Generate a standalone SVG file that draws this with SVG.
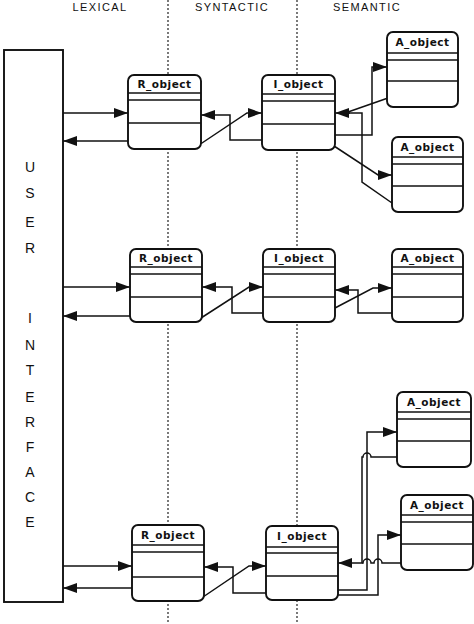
<svg xmlns="http://www.w3.org/2000/svg" width="474" height="624" viewBox="0 0 474 624">
<style>
.hdr{font-family:"Liberation Sans",Arial,sans-serif;font-size:11px;letter-spacing:1.4px;fill:#111;text-anchor:middle}
.ui{font-family:"Liberation Sans",Arial,sans-serif;font-size:14px;fill:#111;text-anchor:middle}
.ttl{font-family:"DejaVu Sans",sans-serif;font-size:10.5px;font-weight:bold;letter-spacing:0.5px;fill:#111;text-anchor:middle}
.box{fill:#fff;stroke:#111;stroke-width:1.9}
.sep{stroke:#111;stroke-width:1.5}
.div{stroke:#222;stroke-width:1.2;stroke-dasharray:2,2;fill:none}
.c{fill:none;stroke:#111;stroke-width:1.5}
.a{marker-end:url(#ah)}
</style>
<defs>
<marker id="ah" viewBox="0 0 14 10" refX="14" refY="5" markerWidth="14" markerHeight="10" orient="auto" markerUnits="userSpaceOnUse">
<path d="M0,0 L14,5 L0,10 z" fill="#111"/>
</marker>
</defs>
<rect width="474" height="624" fill="#fff"/>
<g id="headers">
<text class="hdr" x="100" y="11">LEXICAL</text>
<text class="hdr" x="232" y="11">SYNTACTIC</text>
<text class="hdr" x="367" y="11">SEMANTIC</text>
</g>
<g id="dividers">
<line class="div" x1="168" y1="0" x2="168" y2="624"/>
<line class="div" x1="297" y1="0" x2="297" y2="624"/>
</g>
<g id="user-interface">
<rect class="box" x="4" y="50" width="59" height="552" rx="0"/>
<text class="ui" x="30" y="172">U</text>
<text class="ui" x="30" y="198">S</text>
<text class="ui" x="30" y="227">E</text>
<text class="ui" x="30" y="253">R</text>
<text class="ui" x="30" y="323">I</text>
<text class="ui" x="30" y="350">N</text>
<text class="ui" x="30" y="375">T</text>
<text class="ui" x="30" y="402">E</text>
<text class="ui" x="30" y="427">R</text>
<text class="ui" x="30" y="452">F</text>
<text class="ui" x="30" y="477">A</text>
<text class="ui" x="30" y="502">C</text>
<text class="ui" x="30" y="527">E</text>
</g>
<g id="connectors">
<path class="c a" d="M63,113 H128"/>
<path class="c a" d="M128,141 H63"/>
<path class="c a" d="M262,140 H230 V115 H201"/>
<path class="c a" d="M199,145 L247,113 H262"/>
<path class="c a" d="M335,135 H372 V67 H387"/>
<path class="c" d="M388,98 L348,112"/>
<path class="c" d="M392,203 L362,182 V113 H347"/>
<path class="c a" d="M350,113 H335"/>
<path class="c a" d="M334,146 L378,175 H392"/>

<path class="c a" d="M63,287 H130"/>
<path class="c a" d="M130,316 H63"/>
<path class="c a" d="M263,313 H232 V287 H202"/>
<path class="c a" d="M201,318 L249,287 H263"/>
<path class="c a" d="M392,313 H358 V290 H335"/>
<path class="c a" d="M335,308 L373,288 H392"/>

<path class="c a" d="M63,566 H132"/>
<path class="c a" d="M132,588 H63"/>
<path class="c a" d="M266,593 H233 V567 H204"/>
<path class="c a" d="M203,597 L249,566 H266"/>
<path class="c a" d="M338,590 H367 V432 H397"/>
<path class="c a" d="M397,457 H371 a4,4 0 0 0 -8,0 H362 V563 H338"/>
<path class="c a" d="M338,595 H378 V535 H401"/>
<path class="c" d="M401,563 H382 a4,4 0 0 0 -8,0 H371 a4,4 0 0 0 -8,0 H362"/>
</g>
<g id="R1">
<rect class="box" x="128" y="75" width="73" height="74" rx="6"/>
<text class="ttl" x="164.5" y="88">R_object</text>
<line class="sep" x1="128" y1="93" x2="201" y2="93"/>
<line class="sep" x1="128" y1="100" x2="201" y2="100"/>
<line class="sep" x1="128" y1="123" x2="201" y2="123"/>
</g>
<g id="I1">
<rect class="box" x="262" y="75" width="73" height="75" rx="6"/>
<text class="ttl" x="298.5" y="88">I_object</text>
<line class="sep" x1="262" y1="94" x2="335" y2="94"/>
<line class="sep" x1="262" y1="101" x2="335" y2="101"/>
<line class="sep" x1="262" y1="124" x2="335" y2="124"/>
</g>
<g id="A1">
<rect class="box" x="387" y="32" width="71" height="75" rx="6"/>
<text class="ttl" x="422.5" y="46">A_object</text>
<line class="sep" x1="387" y1="53" x2="458" y2="53"/>
<line class="sep" x1="387" y1="60" x2="458" y2="60"/>
<line class="sep" x1="387" y1="81" x2="458" y2="81"/>
</g>
<g id="A2">
<rect class="box" x="392" y="137" width="71" height="75" rx="6"/>
<text class="ttl" x="427.5" y="151">A_object</text>
<line class="sep" x1="392" y1="157" x2="463" y2="157"/>
<line class="sep" x1="392" y1="164" x2="463" y2="164"/>
<line class="sep" x1="392" y1="186" x2="463" y2="186"/>
</g>
<g id="R2">
<rect class="box" x="130" y="249" width="72" height="73" rx="6"/>
<text class="ttl" x="166" y="262">R_object</text>
<line class="sep" x1="130" y1="267" x2="202" y2="267"/>
<line class="sep" x1="130" y1="274" x2="202" y2="274"/>
<line class="sep" x1="130" y1="297" x2="202" y2="297"/>
</g>
<g id="I2">
<rect class="box" x="263" y="249" width="72" height="73" rx="6"/>
<text class="ttl" x="299" y="262">I_object</text>
<line class="sep" x1="263" y1="267" x2="335" y2="267"/>
<line class="sep" x1="263" y1="274" x2="335" y2="274"/>
<line class="sep" x1="263" y1="297" x2="335" y2="297"/>
</g>
<g id="A3">
<rect class="box" x="392" y="249" width="71" height="73" rx="6"/>
<text class="ttl" x="427.5" y="262">A_object</text>
<line class="sep" x1="392" y1="267" x2="463" y2="267"/>
<line class="sep" x1="392" y1="274" x2="463" y2="274"/>
<line class="sep" x1="392" y1="297" x2="463" y2="297"/>
</g>
<g id="R3">
<rect class="box" x="132" y="525" width="72" height="76" rx="6"/>
<text class="ttl" x="168" y="539">R_object</text>
<line class="sep" x1="132" y1="545" x2="204" y2="545"/>
<line class="sep" x1="132" y1="552" x2="204" y2="552"/>
<line class="sep" x1="132" y1="577" x2="204" y2="577"/>
</g>
<g id="I3">
<rect class="box" x="266" y="526" width="72" height="74" rx="6"/>
<text class="ttl" x="302" y="540">I_object</text>
<line class="sep" x1="266" y1="547" x2="338" y2="547"/>
<line class="sep" x1="266" y1="553" x2="338" y2="553"/>
<line class="sep" x1="266" y1="576" x2="338" y2="576"/>
</g>
<g id="A4">
<rect class="box" x="397" y="392" width="74" height="75" rx="6"/>
<text class="ttl" x="434" y="406">A_object</text>
<line class="sep" x1="397" y1="412" x2="471" y2="412"/>
<line class="sep" x1="397" y1="419" x2="471" y2="419"/>
<line class="sep" x1="397" y1="441" x2="471" y2="441"/>
</g>
<g id="A5">
<rect class="box" x="401" y="495" width="72" height="75" rx="6"/>
<text class="ttl" x="437" y="509">A_object</text>
<line class="sep" x1="401" y1="515" x2="473" y2="515"/>
<line class="sep" x1="401" y1="522" x2="473" y2="522"/>
<line class="sep" x1="401" y1="544" x2="473" y2="544"/>
</g>
</svg>
